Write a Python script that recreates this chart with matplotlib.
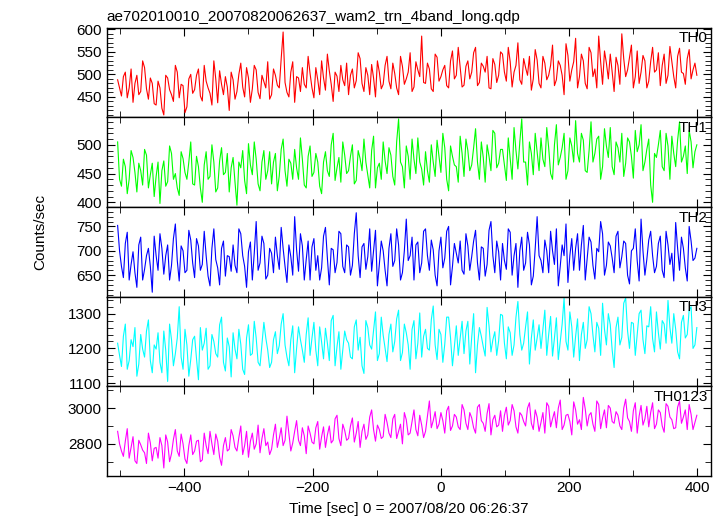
import numpy as np
import matplotlib
matplotlib.use("Agg")
import matplotlib.pyplot as plt
from matplotlib.ticker import MultipleLocator

plt.rcParams['font.family'] = ['Liberation Sans', 'DejaVu Sans']

# time bins (sec), 3 s spacing
time = np.arange(-504, 400, 3)

th0 = [488, 470, 452, 495, 505, 448, 470, 512, 438, 480, 498, 455, 462, 530, 515, 468, 445, 492, 480, 435,
       432, 485, 470, 425, 410, 498, 492, 466, 455, 440, 520, 505, 448, 478, 475, 415, 428, 490, 500, 458,
       466, 498, 512, 452, 441, 520, 485, 470, 458, 432, 530, 490, 437, 508, 478, 455, 495, 472, 420, 505,
       488, 445, 462, 500, 525, 472, 450, 515, 492, 438, 468, 520, 510, 460, 446, 498, 484, 470, 528, 445,
       455, 512, 498, 476, 470, 535, 594, 482, 460, 450, 505, 528, 438, 495, 492, 462, 515, 478, 470, 540,
       502, 470, 448, 515, 488, 455, 530, 492, 465, 545, 508, 478, 440, 505, 496, 462, 520, 488, 475, 525,
       455, 498, 512, 470, 486, 548, 535, 480, 462, 515, 498, 455, 522, 492, 450, 530, 505, 468, 478, 520,
       540, 485, 468, 525, 502, 470, 455, 540, 518, 478, 490, 505, 548, 462, 472, 528, 510, 495, 585, 482,
       480, 525, 512, 468, 462, 545, 538, 485, 495, 510, 520, 475, 470, 530, 552, 490, 498, 560, 515, 472,
       476, 518, 530, 490, 505, 548, 560, 475, 482, 525, 518, 505, 540, 470, 468, 535, 522, 482, 498, 550,
       545, 505, 485, 560, 528, 472, 505, 520, 570, 488, 478, 535, 515, 498, 540, 465, 490, 555, 532, 480,
       470, 540, 525, 488, 498, 520, 565, 475, 488, 530, 520, 498, 455, 568, 542, 485, 510, 528, 580, 470,
       495, 545, 530, 480, 468, 560, 548, 495, 512, 470, 585, 528, 478, 552, 525, 490, 545, 505, 462, 538,
       520, 478, 590, 535, 495, 510, 538, 565, 470, 495, 552, 480, 505, 542, 530, 470, 485, 528, 560, 505,
       510, 548, 475, 520, 545, 480, 498, 562, 528, 495, 470, 540, 558, 505, 502, 478, 535, 555, 490, 510,
       525, 498]

th1 = [505, 440, 428, 475, 462, 415, 440, 490, 478, 452, 418, 468, 455, 430, 492, 482, 425, 448, 468, 410,
       445, 470, 398, 455, 472, 428, 436, 498, 485, 440, 450, 425, 412, 488, 476, 452, 440, 470, 505, 432,
       430, 480, 462, 425, 400, 465, 488, 440, 445, 500, 470, 418, 425, 472, 495, 448, 452, 485, 418, 460,
       478, 435, 395, 470, 460, 490, 438, 415, 502, 465, 448, 505, 475, 432, 420, 470, 490, 440, 455, 488,
       432, 470, 485, 420, 446, 492, 510, 455, 428, 475, 468, 440, 492, 460, 440, 512, 475, 430, 425, 480,
       498, 445, 452, 485, 470, 428, 415, 470, 488, 455, 445, 500, 520, 438, 460, 478, 435, 505, 482, 450,
       455, 480, 500, 432, 438, 490, 476, 455, 510, 470, 448, 425, 490, 515, 425, 460, 468, 440, 505, 472,
       450, 495, 482, 445, 430, 505, 545, 470, 462, 425, 498, 480, 440, 510, 475, 450, 512, 470, 458, 430,
       488, 455, 435, 500, 470, 445, 508, 480, 452, 520, 495, 440, 420, 498, 480, 465, 462, 435, 515, 485,
       445, 510, 490, 455, 465, 495, 528, 470, 440, 505, 478, 435, 500, 480, 455, 525, 520, 460, 468, 492,
       492, 465, 438, 512, 475, 440, 530, 490, 458, 505, 545, 470, 470, 430, 505, 485, 448, 520, 488, 455,
       512, 475, 462, 530, 495, 450, 440, 500, 535, 465, 478, 495, 520, 440, 455, 512, 498, 470, 542, 485,
       470, 520, 508, 455, 452, 490, 540, 470, 485, 510, 515, 440, 462, 528, 498, 478, 530, 462, 448, 505,
       495, 470, 520, 445, 468, 512, 505, 480, 442, 525, 488, 500, 535, 455, 470, 492, 510, 430, 400, 485,
       478, 500, 525, 462, 455, 520, 498, 440, 515, 485, 462, 508, 540, 470, 480, 498, 450, 525, 505, 460,
       488, 500]

th2 = [752, 700, 668, 645, 715, 738, 640, 672, 698, 655, 625, 712, 728, 640, 662, 690, 705, 668, 615, 730,
       690, 660, 735, 705, 652, 690, 712, 640, 670, 725, 755, 680, 638, 710, 700, 655, 660, 742, 722, 675,
       645, 725, 710, 660, 672, 740, 690, 648, 628, 705, 745, 682, 665, 630, 705, 720, 648, 690, 688, 658,
       712, 670, 655, 745, 735, 690, 668, 625, 698, 718, 640, 695, 760, 660, 675, 730, 715, 642, 650, 705,
       695, 655, 728, 690, 662, 748, 705, 668, 635, 712, 688, 650, 770, 702, 658, 735, 710, 640, 682, 720,
       640, 708, 725, 660, 690, 640, 665, 730, 748, 685, 630, 705, 702, 655, 676, 740, 735, 668, 655, 712,
       708, 650, 670, 735, 778, 690, 645, 708, 715, 662, 688, 745, 658, 700, 742, 628, 672, 720, 700, 660,
       628, 705, 735, 668, 680, 745, 712, 640, 655, 700, 765, 680, 690, 728, 640, 712, 718, 655, 675, 740,
       745, 690, 660, 722, 702, 650, 628, 700, 728, 665, 685, 740, 750, 630, 668, 715, 695, 675, 720, 660,
       652, 735, 710, 660, 688, 720, 742, 675, 640, 708, 705, 648, 672, 742, 760, 690, 655, 720, 698, 640,
       715, 680, 662, 745, 738, 650, 690, 715, 625, 700, 728, 660, 675, 738, 712, 630, 648, 705, 770, 690,
       680, 655, 722, 700, 655, 740, 700, 672, 745, 628, 668, 712, 690, 755, 635, 690, 725, 660, 705, 735,
       660, 712, 752, 640, 685, 728, 718, 670, 642, 705, 698, 760, 735, 650, 670, 718, 710, 685, 655, 730,
       740, 665, 688, 720, 715, 650, 632, 700, 705, 745, 680, 638, 765, 700, 650, 682, 722, 740, 690, 655,
       668, 715, 730, 660, 645, 740, 712, 672, 695, 638, 758, 705, 660, 728, 705, 665, 638, 750, 720, 680,
       685, 705]

th3 = [1215, 1180, 1148, 1235, 1270, 1140, 1165, 1225, 1205, 1260, 1120, 1155, 1240, 1198, 1175, 1250, 1282, 1165, 1130, 1210,
       1198, 1245, 1160, 1130, 1250, 1195, 1105, 1270, 1225, 1150, 1185, 1230, 1320, 1175, 1140, 1255, 1210, 1120, 1168, 1225,
       1235, 1170, 1110, 1260, 1195, 1215, 1258, 1140, 1150, 1240, 1220, 1185, 1175, 1268, 1290, 1160, 1135, 1230, 1205, 1118,
       1245, 1198, 1170, 1255, 1212, 1140, 1125, 1230, 1268, 1180, 1185, 1278, 1230, 1160, 1150, 1212, 1275, 1230, 1195, 1145,
       1160, 1225, 1248, 1185, 1208, 1270, 1300, 1210, 1175, 1150, 1225, 1265, 1130, 1200, 1262, 1225, 1195, 1160, 1240, 1288,
       1180, 1230, 1275, 1195, 1150, 1262, 1218, 1170, 1258, 1215, 1165, 1280, 1295, 1150, 1205, 1248, 1140, 1195, 1250, 1225,
       1215, 1175, 1170, 1262, 1282, 1195, 1232, 1150, 1128, 1280, 1260, 1210, 1198, 1250, 1305, 1165, 1185, 1290, 1238, 1200,
       1162, 1240, 1270, 1190, 1220, 1285, 1310, 1165, 1188, 1270, 1245, 1210, 1140, 1255, 1280, 1170, 1215, 1302, 1175, 1235,
       1255, 1200, 1195, 1282, 1322, 1210, 1168, 1255, 1240, 1160, 1212, 1290, 1290, 1230, 1150, 1205, 1265, 1180, 1228, 1278,
       1185, 1250, 1278, 1155, 1232, 1300, 1130, 1210, 1260, 1235, 1205, 1178, 1318, 1265, 1190, 1225, 1248, 1180, 1222, 1298,
       1295, 1215, 1170, 1262, 1245, 1180, 1210, 1290, 1335, 1240, 1195, 1215, 1262, 1305, 1155, 1230, 1282, 1195, 1230, 1268,
       1200, 1255, 1310, 1180, 1240, 1292, 1178, 1230, 1288, 1168, 1220, 1270, 1345, 1220, 1195, 1305, 1262, 1175, 1235, 1285,
       1165, 1240, 1275, 1200, 1225, 1320, 1300, 1238, 1190, 1275, 1258, 1180, 1330, 1255, 1210, 1300, 1268, 1195, 1145, 1260,
       1290, 1210, 1232, 1330, 1345, 1250, 1200, 1275, 1272, 1180, 1240, 1300, 1310, 1225, 1185, 1265, 1262, 1320, 1228, 1190,
       1305, 1245, 1198, 1280, 1270, 1215, 1338, 1260, 1215, 1300, 1255, 1190, 1170, 1275, 1295, 1230, 1240, 1310, 1320, 1200,
       1210, 1260]

th0123 = [2870, 2800, 2760, 2730, 2815, 2885, 2720, 2780, 2840, 2705, 2690, 2820, 2795, 2765, 2750, 2690, 2860, 2805, 2705, 2775,
          2780, 2720, 2835, 2790, 2665, 2850, 2810, 2700, 2745, 2825, 2880, 2760, 2730, 2855, 2800, 2715, 2690, 2790, 2850, 2740,
          2760, 2815, 2820, 2700, 2710, 2860, 2790, 2745, 2870, 2800, 2740, 2855, 2815, 2725, 2680, 2790, 2835, 2760, 2770, 2880,
          2845, 2780, 2760, 2835, 2900, 2740, 2790, 2870, 2725, 2815, 2860, 2770, 2800, 2905, 2750, 2830, 2885, 2790, 2810, 2740,
          2770, 2850, 2910, 2780, 2830, 2890, 2790, 2820, 2955, 2860, 2760, 2805, 2870, 2930, 2820, 2790, 2890, 2845, 2745, 2900,
          2860, 2810, 2800, 2890, 2925, 2770, 2840, 2895, 2780, 2850, 2900, 2805, 2820, 2940, 2960, 2830, 2790, 2910, 2875, 2820,
          2830, 2900, 2945, 2810, 2860, 2925, 2780, 2870, 2910, 2825, 2850, 2950, 2990, 2880, 2815, 2905, 2880, 2830, 2840, 2965,
          2920, 2860, 2835, 2940, 2965, 2830, 2870, 2910, 2800, 2975, 2935, 2850, 2860, 2925, 2990, 2880, 2845, 2960, 2905, 2835,
          2870, 2955, 3040, 2890, 2930, 2980, 2885, 2910, 2975, 2930, 2860, 2985, 3010, 2875, 2900, 2965, 2950, 2895, 2880, 3020,
          2990, 2915, 2880, 2975, 2945, 2890, 2860, 3005, 3020, 2930, 2915, 2870, 2970, 3025, 2850, 2935, 2960, 2895, 2905, 2985,
          2870, 2960, 3005, 2905, 2930, 3020, 2985, 2895, 2860, 2975, 2960, 2925, 2900, 3000, 3030, 2915, 2880, 2990, 2950, 2870,
          2920, 2975, 2860, 3030, 3010, 2895, 2940, 2980, 2890, 3000, 3045, 2880, 2905, 2960, 2965, 2925, 2850, 3035, 2990, 2910,
          2935, 2880, 3060, 2995, 2900, 2960, 2975, 2910, 2870, 3040, 3020, 2885, 2945, 2990, 2890, 3015, 3000, 2925, 2915, 2980,
          2960, 2900, 2880, 3000, 3050, 2945, 2925, 2870, 2985, 3030, 2860, 2955, 3015, 2905, 2940, 3010, 2895, 2975, 3030, 2885,
          2910, 2990, 2975, 2900, 2865, 3025, 3010, 2950, 2935, 2885, 2890, 3005, 3040, 2915, 2950, 2990, 2880, 3020, 2965, 2880,
          2920, 2960]

labels = ['TH0', 'TH1', 'TH2', 'TH3', 'TH0123']
series = [th0, th1, th2, th3, th0123]
colors = ['#ff0000', '#00ff00', '#0000ff', '#00ffff', '#ff00ff']
ylims = [(405, 604), (392, 548), (606, 790), (1091, 1349), (2620, 3122)]
ymajor = [50, 50, 50, 100, 200]
yminor = [10, 10, 10, 20, 100]

fig, axes = plt.subplots(5, 1, figsize=(7.24, 5.16), dpi=100, sharex=True)
fig.subplots_adjust(left=0.1474, right=0.982, bottom=0.0775, top=0.9467, hspace=0)

for ax, y, c, lab, yl, mj, mn in zip(axes, series, colors, labels, ylims, ymajor, yminor):
    ax.plot(time, y, color=c, lw=0.8)
    ax.set_xlim(-521, 421)
    ax.set_ylim(*yl)
    ax.yaxis.set_major_locator(MultipleLocator(mj))
    ax.yaxis.set_minor_locator(MultipleLocator(mn))
    ax.xaxis.set_major_locator(MultipleLocator(200))
    ax.xaxis.set_minor_locator(MultipleLocator(100))
    ax.tick_params(which='both', direction='in', top=True, right=True, labelsize=11)
    ax.tick_params(which='major', length=6)
    ax.tick_params(which='minor', length=4)
    for s in ax.spines.values():
        s.set_linewidth(1.0)
    ax.text(0.995, 0.88, lab, transform=ax.transAxes, ha='right', va='center', fontsize=11)

axes[0].set_title('ae702010010_20070820062637_wam2_trn_4band_long.qdp',
                  loc='left', fontsize=11, pad=5)
axes[-1].set_xlabel('Time [sec] 0 = 2007/08/20 06:26:37', fontsize=11, labelpad=5)
fig.text(0.056, 0.55, 'Counts/sec', rotation=90, ha='center', va='center', fontsize=11)

fig.savefig('out.png', dpi=100)
